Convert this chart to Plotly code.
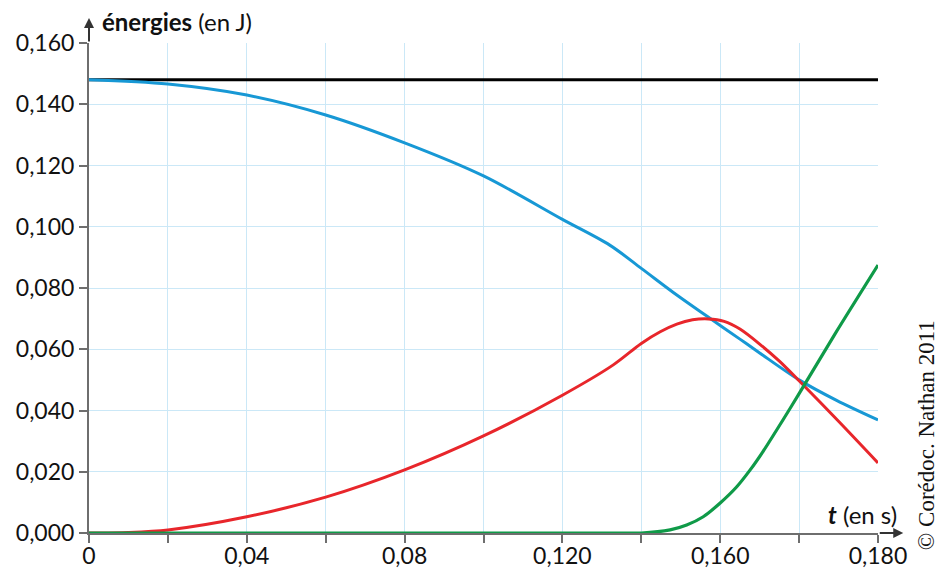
import plotly.graph_objects as go

# ---- data ----
t_black = [0.0, 0.20]
e_black = [0.148, 0.148]

t_blue = [0, 0.02, 0.04, 0.06, 0.08, 0.10, 0.12, 0.132, 0.14, 0.149, 0.1574, 0.165, 0.17, 0.18, 0.1895, 0.20]
e_blue = [0.148, 0.1466, 0.1430, 0.1365, 0.1274, 0.1166, 0.1024, 0.0940, 0.0864, 0.0777, 0.0701, 0.0633, 0.0588, 0.0500, 0.0433, 0.0369]

t_red = [0, 0.01, 0.02, 0.04, 0.06, 0.08, 0.10, 0.12, 0.1329, 0.14, 0.1448, 0.149, 0.153, 0.157, 0.161, 0.165, 0.17, 0.175, 0.18, 0.19, 0.20]
e_red = [0, 0.0002, 0.001, 0.0053, 0.0117, 0.0206, 0.0317, 0.0450, 0.0549, 0.0619, 0.0657, 0.0682, 0.0696, 0.0699, 0.0691, 0.0666, 0.0617, 0.0561, 0.0497, 0.0365, 0.0229]

t_green = [0, 0.13, 0.14, 0.1473, 0.1515, 0.1557, 0.16, 0.1642, 0.1676, 0.1708, 0.1759, 0.18, 0.189, 0.20]
e_green = [0, 0, 0, 0.0010, 0.0026, 0.0053, 0.0098, 0.0151, 0.0206, 0.0265, 0.0369, 0.0455, 0.0648, 0.0875]

x_tickvals = [0, 0.02, 0.04, 0.06, 0.08, 0.10, 0.12, 0.14, 0.16, 0.18, 0.20]
x_ticktext = ["0", "", "0,04", "", "0,08", "", "0,120", "", "0,160", "", "0,180"]
y_tickvals = [0, 0.02, 0.04, 0.06, 0.08, 0.10, 0.12, 0.14, 0.16]
y_ticktext = ["0,000", "0,020", "0,040", "0,060", "0,080", "0,100", "0,120", "0,140", "0,160"]

FONT = "Lato"
FS = 23
GRID = "#cbe8f7"
AXIS = "#6e6e6e"
TXT = "#111111"

fig = go.Figure()
fig.add_trace(go.Scatter(x=t_black, y=e_black, mode="lines",
                         line=dict(color="#000000", width=3.2), cliponaxis=False))
fig.add_trace(go.Scatter(x=t_blue, y=e_blue, mode="lines",
                         line=dict(color="#1798d5", width=3, shape="spline", smoothing=0.9), cliponaxis=False))
fig.add_trace(go.Scatter(x=t_red, y=e_red, mode="lines",
                         line=dict(color="#e8262b", width=3, shape="spline", smoothing=0.8), cliponaxis=False))
fig.add_trace(go.Scatter(x=t_green, y=e_green, mode="lines",
                         line=dict(color="#0f9a48", width=3.2, shape="spline", smoothing=0.7), cliponaxis=False))

axis_common = dict(showgrid=True, gridcolor=GRID, gridwidth=1.3, zeroline=False,
                   showline=True, linecolor=AXIS, linewidth=2,
                   ticks="outside", ticklen=8, tickwidth=1.5, tickcolor=AXIS,
                   automargin=False,
                   tickfont=dict(family=FONT, size=FS, color=TXT))

fig.update_layout(
    width=948, height=571,
    margin=dict(l=89, r=70, t=43, b=38),
    paper_bgcolor="white", plot_bgcolor="white",
    showlegend=False,
    font=dict(family=FONT, size=FS, color=TXT),
    xaxis=dict(range=[0, 0.20], tickvals=x_tickvals, ticktext=x_ticktext,
               ticklabelstandoff=-7, **axis_common),
    yaxis=dict(range=[0, 0.16], tickvals=y_tickvals, ticktext=y_ticktext, **axis_common),
)

annotations = [
    # y axis arrow
    dict(x=0, y=1.051, xref="paper", yref="paper", ax=0, ay=25, axref="pixel", ayref="pixel",
         showarrow=True, arrowhead=2, arrowsize=1, arrowwidth=2, arrowcolor="#333333", text=""),
    # x axis arrow
    dict(x=1.032, y=0, xref="paper", yref="paper", ax=-25, ay=0, axref="pixel", ayref="pixel",
         showarrow=True, arrowhead=2, arrowsize=1, arrowwidth=2, arrowcolor="#333333", text=""),
    dict(x=0.0139, y=1.043, xref="paper", yref="paper", xanchor="left", yanchor="middle",
         showarrow=False, text="<b>énergies</b> (en J)", font=dict(family=FONT, size=24, color=TXT)),
    dict(x=0.934, y=0.037, xref="paper", yref="paper", xanchor="left", yanchor="middle",
         showarrow=False, text="<b><i>t</i></b> (en s)", font=dict(family=FONT, size=24, color=TXT)),
    dict(x=1.061, y=0.20, xref="paper", yref="paper", xanchor="center", yanchor="middle",
         showarrow=False, textangle=-90, text="© Corédoc. Nathan 2011",
         font=dict(family="Liberation Serif", size=23, color=TXT)),
]
fig.update_layout(annotations=annotations)

fig.write_html("out.html", config={"displayModeBar": False})

# remove the default page margin so the figure sits at the window's top-left corner
with open("out.html", "r", encoding="utf-8") as f:
    html = f.read()
html = html.replace("<head>", "<head><style>html,body{margin:0;padding:0;overflow:hidden;}</style>", 1)
with open("out.html", "w", encoding="utf-8") as f:
    f.write(html)
